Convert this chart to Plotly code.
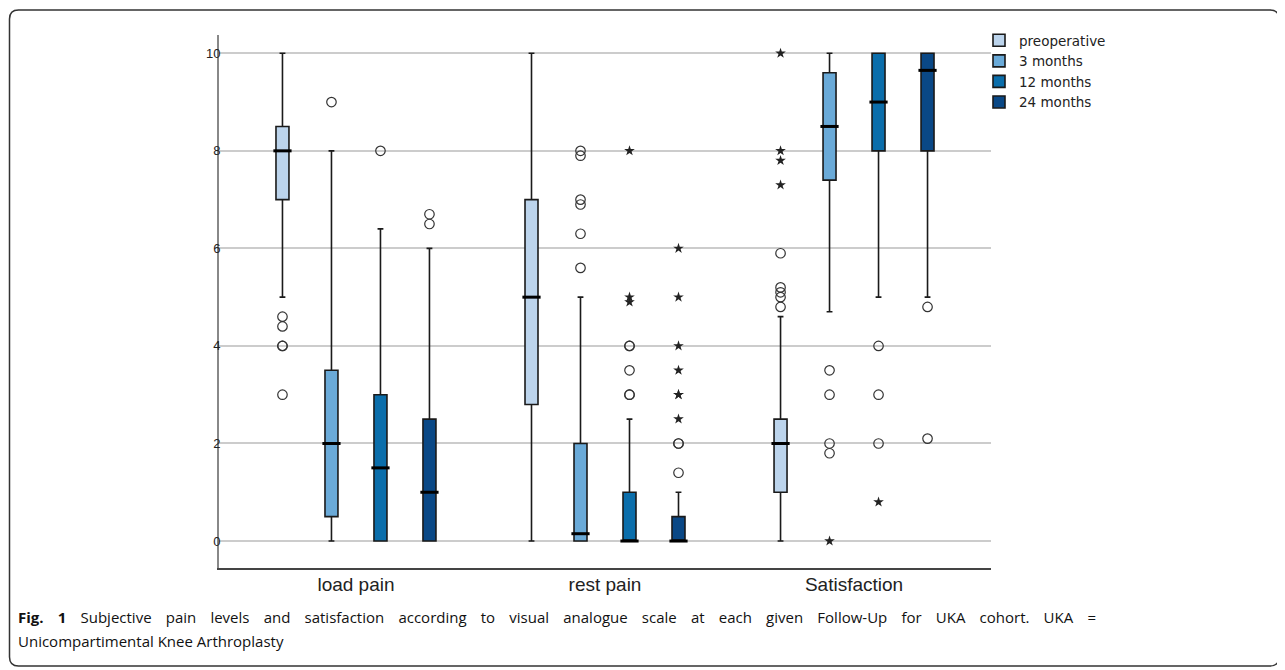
import plotly.graph_objects as go

# ---------------- data ----------------
categories = ["load pain", "rest pain", "Satisfaction"]
series = ["preoperative", "3 months", "12 months", "24 months"]

preop_q1 = [7.0, 2.8, 1.0]
preop_median = [8.0, 5.0, 2.0]
preop_q3 = [8.5, 7.0, 2.5]
preop_lower = [5.0, 0.0, 0.0]
preop_upper = [10.0, 10.0, 4.6]

m3_q1 = [0.5, 0.0, 7.4]
m3_median = [2.0, 0.15, 8.5]
m3_q3 = [3.5, 2.0, 9.6]
m3_lower = [0.0, 0.0, 4.7]
m3_upper = [8.0, 5.0, 10.0]

m12_q1 = [0.0, 0.0, 8.0]
m12_median = [1.5, 0.0, 9.0]
m12_q3 = [3.0, 1.0, 10.0]
m12_lower = [0.0, 0.0, 5.0]
m12_upper = [6.4, 2.5, 10.0]

m24_q1 = [0.0, 0.0, 8.0]
m24_median = [1.0, 0.0, 9.65]
m24_q3 = [2.5, 0.5, 10.0]
m24_lower = [0.0, 0.0, 5.0]
m24_upper = [6.0, 1.0, 10.0]

# outliers (circles) and extreme values (stars), per category
preop_circles = {"load pain": [4.6, 4.4, 4.0, 4.0, 3.0], "rest pain": [],
                 "Satisfaction": [5.9, 5.2, 5.1, 5.0, 4.8]}
m3_circles = {"load pain": [9.0], "rest pain": [8.0, 7.9, 7.0, 6.9, 6.3, 5.6],
              "Satisfaction": [3.5, 3.0, 2.0, 1.8]}
m12_circles = {"load pain": [8.0], "rest pain": [4.0, 4.0, 3.5, 3.0, 3.0],
               "Satisfaction": [4.0, 3.0, 2.0]}
m24_circles = {"load pain": [6.7, 6.5], "rest pain": [2.0, 2.0, 1.4],
               "Satisfaction": [4.8, 2.1]}

preop_stars = {"load pain": [], "rest pain": [], "Satisfaction": [10.0, 8.0, 7.8, 7.3]}
m3_stars = {"load pain": [], "rest pain": [], "Satisfaction": [0.0]}
m12_stars = {"load pain": [], "rest pain": [8.0, 5.0, 4.9], "Satisfaction": [0.8]}
m24_stars = {"load pain": [], "rest pain": [6.0, 5.0, 4.0, 3.5, 3.0, 3.0, 2.5],
             "Satisfaction": []}

y_ticks = [0, 2, 4, 6, 8, 10]

caption_bold = "Fig. 1"
caption_line1 = ("Subjective pain levels and satisfaction according to visual analogue "
                 "scale at each given Follow-Up for UKA cohort. UKA =")
caption_line2 = "Unicompartimental Knee Arthroplasty"

# ---------------- styling ----------------
colors = ["#bcd4ec", "#6aaad8", "#0b6eab", "#0a4886"]
stats = [
    (preop_q1, preop_median, preop_q3, preop_lower, preop_upper),
    (m3_q1, m3_median, m3_q3, m3_lower, m3_upper),
    (m12_q1, m12_median, m12_q3, m12_lower, m12_upper),
    (m24_q1, m24_median, m24_q3, m24_lower, m24_upper),
]
circles = [preop_circles, m3_circles, m12_circles, m24_circles]
stars = [preop_stars, m3_stars, m12_stars, m24_stars]

OFF = 8  # page body margin of the browser
W, H = 1285, 670
L, R, T, B = 219 - OFF, 991 - OFF, 35 - OFF, 568 - OFF
PW, PH = R - L, B - T
BOXGAP = 0.213
GROUPGAP = 0.735

def px(xs):
    """screen x pixel -> paper fraction"""
    return (xs - OFF - L) / PW

def py(ys):
    """screen y pixel -> paper fraction"""
    return (B - (ys - OFF)) / PH

fig = go.Figure()

for name, col, (q1, med, q3, lo, hi) in zip(series, colors, stats):
    fig.add_trace(go.Box(
        name=name, x=categories, q1=q1, median=med, q3=q3,
        lowerfence=lo, upperfence=hi, boxpoints=False,
        fillcolor=col, line=dict(color="#1a1a1a", width=1.6),
        whiskerwidth=0.45, offsetgroup=name, legendgroup=name,
    ))

for name, (q1, med, q3, lo, hi) in zip(series, stats):
    fig.add_trace(go.Scatter(
        x=categories, y=med, mode="markers", offsetgroup=name,
        marker=dict(symbol="line-ew", size=13, line=dict(color="black", width=3)),
        showlegend=False, hoverinfo="skip", legendgroup=name,
    ))

for name, circ, st in zip(series, circles, stars):
    cx, cy, sx, sy = [], [], [], []
    for c in categories:
        cx += [c] * len(circ[c]); cy += circ[c]
        sx += [c] * len(st[c]); sy += st[c]
    fig.add_trace(go.Scatter(
        x=cx, y=cy, mode="markers", offsetgroup=name, showlegend=False,
        marker=dict(symbol="circle-open", size=9.5, color="#333333",
                    line=dict(width=1.2, color="#333333")),
        legendgroup=name,
    ))
    fig.add_trace(go.Scatter(
        x=sx, y=sy, mode="markers", offsetgroup=name, showlegend=False,
        marker=dict(symbol="star", size=8, color="#222222", line=dict(width=0)),
        legendgroup=name,
    ))

# rounded frame around figure + caption (screen pixels)
fx0, fy0, fx1, fy1, r = 9.5, 10, 1279, 666, 9
path = (f"M {px(fx0 + r)},{py(fy0)} L {px(fx1 - r)},{py(fy0)} "
        f"Q {px(fx1)},{py(fy0)} {px(fx1)},{py(fy0 + r)} "
        f"L {px(fx1)},{py(fy1 - r)} Q {px(fx1)},{py(fy1)} {px(fx1 - r)},{py(fy1)} "
        f"L {px(fx0 + r)},{py(fy1)} Q {px(fx0)},{py(fy1)} {px(fx0)},{py(fy1 - r)} "
        f"L {px(fx0)},{py(fy0 + r)} Q {px(fx0)},{py(fy0)} {px(fx0 + r)},{py(fy0)} Z")

gap = " " + "\u00a0" * 2 + "\u2009"  # justified first caption line
line1_text = f"<b>{gap.join(caption_bold.split())}</b>{gap}" + gap.join(caption_line1.split())

fig.update_layout(
    width=W, height=H,
    margin=dict(l=L, r=W - R, t=T, b=H - B, pad=0),
    paper_bgcolor="white", plot_bgcolor="white",
    boxmode="group", boxgap=BOXGAP, boxgroupgap=GROUPGAP,
    scattermode="group", scattergap=BOXGAP,
    font=dict(family="Liberation Sans, Arial, sans-serif", color="#222222"),
    xaxis=dict(
        type="category", categoryorder="array", categoryarray=categories,
        range=[-0.55, 2.55], showline=True, linecolor="#444444", linewidth=2,
        showgrid=False, ticks="", tickfont=dict(size=19, color="#222222"),
        zeroline=False, ticklabelstandoff=-2,
    ),
    yaxis=dict(
        range=[-0.553, 10.375], tickvals=y_ticks, ticks="",
        showline=True, linecolor="#888888", linewidth=2,
        showgrid=True, gridcolor="#cccccc", gridwidth=1.5, zeroline=False,
        tickfont=dict(size=13, color="#222222"), ticklabelstandoff=-6,
    ),
    legend=dict(
        x=px(979), y=py(25), xanchor="left", yanchor="top",
        font=dict(family="DejaVu Sans, sans-serif", size=13.5, color="#222222"),
        tracegroupgap=0, bgcolor="rgba(0,0,0,0)", borderwidth=0,
    ),
    shapes=[dict(type="path", xref="paper", yref="paper", path=path,
                 line=dict(color="#333333", width=1.5), fillcolor="rgba(0,0,0,0)")],
    annotations=[
        dict(xref="paper", yref="paper", x=px(16), y=py(617), xanchor="left",
             yanchor="middle", showarrow=False, align="left", text=line1_text,
             font=dict(family="Open Sans, sans-serif", size=15, color="#111111")),
        dict(xref="paper", yref="paper", x=px(16), y=py(641), xanchor="left",
             yanchor="middle", showarrow=False, align="left", text=caption_line2,
             font=dict(family="Open Sans, sans-serif", size=15, color="#111111")),
    ],
)

fig.write_html("out.html")
